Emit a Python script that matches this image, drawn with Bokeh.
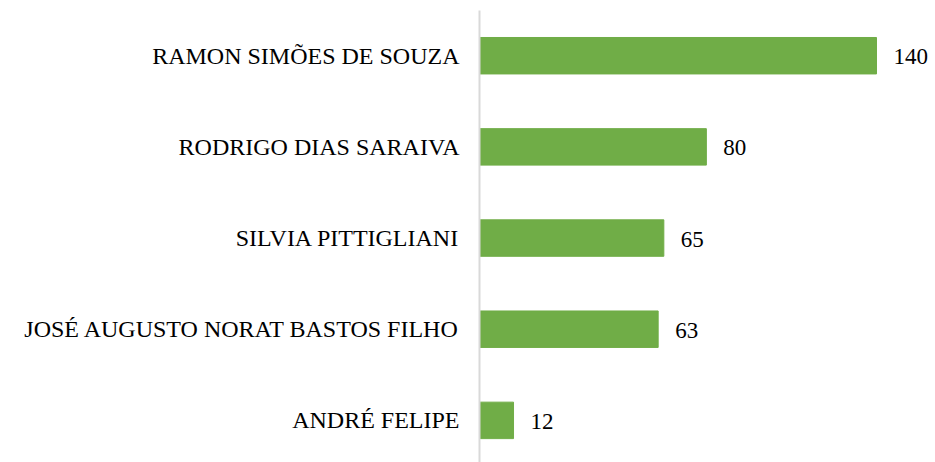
from bokeh.plotting import figure
from bokeh.models import ColumnDataSource, LabelSet, Range1d, FixedTicker
from bokeh.embed import file_html
from bokeh.resources import INLINE

names = ["ANDRÉ FELIPE", "JOSÉ AUGUSTO NORAT BASTOS FILHO", "SILVIA PITTIGLIANI",
         "RODRIGO DIAS SARAIVA", "RAMON SIMÕES DE SOUZA"]
values = [12, 63, 65, 80, 140]

pos = list(range(len(names)))
src = ColumnDataSource(dict(y=pos, value=values, label=[str(v) for v in values]))

FONT = "'Liberation Serif', serif"

p = figure(width=935, height=462, output_backend="svg", toolbar_location=None,
           y_range=Range1d(-0.462, 4.496), x_range=Range1d(0, 160.8),
           min_border_left=479, min_border_right=0, min_border_top=10, min_border_bottom=0)
p.hbar(y="y", right="value", height=0.4, left=0, source=src, color="#70AD47")

labels = LabelSet(x="value", y="y", text="label", source=src, x_offset=17, y_offset=-1,
                  text_font=FONT, text_font_size="23px", text_baseline="middle",
                  text_color="#000000")
p.add_layout(labels)

p.xaxis.visible = False
p.xgrid.visible = False
p.ygrid.visible = False
p.outline_line_color = None
yax = p.yaxis[0]
yax.ticker = FixedTicker(ticks=pos)
yax.major_label_overrides = {i: n for i, n in zip(pos, names)}
yax.axis_line_color = "#D9D9D9"
yax.axis_line_width = 2
yax.major_tick_line_color = None
yax.minor_tick_line_color = None
yax.major_tick_out = 0
yax.major_tick_in = 0
yax.major_label_standoff = 20
yax.major_label_text_font = FONT
yax.major_label_text_font_size = "24px"
yax.major_label_text_color = "#000000"
p.background_fill_color = "white"
p.border_fill_color = "white"

open("out.html", "w").write(file_html(p, INLINE))
